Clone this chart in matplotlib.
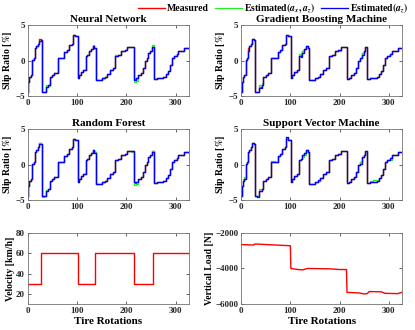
import matplotlib.pyplot as plt
from matplotlib.ticker import FixedLocator

plt.rcParams['font.family'] = 'Liberation Serif'
plt.rcParams['font.weight'] = 'bold'
plt.rcParams['mathtext.fontset'] = 'stix'

# slip ratio steps (start of each step, value in %)
slip_x = [0, 1, 3, 6, 9, 12, 14, 17, 20, 23, 26,
          28, 33, 36, 42, 45, 50, 54, 61, 69, 74, 79, 84, 89, 92, 96,
          101, 104, 108, 113, 118, 121, 124, 128, 132, 135,
          138, 147, 151, 156, 161, 167, 172, 178, 184, 190, 197, 202, 210,
          215, 220, 224, 229, 233, 238, 242, 245, 249, 252,
          256, 262, 268, 275, 280, 285, 289, 293, 297, 303, 306, 313, 318, 327]
slip_meas = [-4.5, -3.0, -2.3, -2.0, 0.1, 0.3, 1.7, 2.0, 2.4, 3.0, 2.9,
             -4.5, -4.4, -3.7, -3.5, -2.3, -2.1, -1.8, 0.3, 0.4, 1.2, 1.5, 2.2, 2.4, 3.6, 3.4,
             -2.4, -2.1, -1.6, -1.3, 0.6, 0.8, 1.3, 1.6, 2.0, 1.8,
             -2.8, -2.7, -2.4, -2.3, -1.9, -1.4, -1.1, 0.7, 0.8, 1.4, 1.5, 1.9, 1.9,
             -2.6, -2.4, -2.0, -1.7, -1.0, 0.0, 0.3, 1.0, 1.4, 1.9,
             -2.6, -2.5, -2.4, -2.3, -1.9, -1.5, -0.6, 0.3, 0.7, 0.9, 1.3, 1.4, 1.7, 1.7]

# where the estimates differ from the measurement (step start -> difference)
nn_xz_dev = {23: -0.2, 36: 0.2, 42: -0.1, 132: 0.15, 215: -0.4, 220: -0.5, 252: 0.25, 178: 0.1}
nn_z_dev = {23: -0.2, 215: -0.1, 252: 0.05, 297: -0.05}
gbm_xz_dev = {36: 0.3, 42: 0.3, 118: 0.3, 121: 0.2, 197: -0.2, 249: -0.2, 14: -0.3}
gbm_z_dev = {14: -0.4, 121: -0.3, 124: -0.2, 245: -0.2, 36: -0.1}
rf_xz_dev = {215: -0.3, 220: -0.3, 210: -0.2, 28: -0.1, 36: 0.1}
rf_z_dev = {23: -0.1, 135: -0.2, 252: -0.2, 215: 0.1}
svm_xz_dev = {3: 0.3, 6: 0.2, 36: 0.2, 61: 0.2, 124: -0.3, 128: -0.2, 262: 0.2, 268: 0.2, 275: 0.1, 303: -0.2, 313: -0.1, 92: 0.1}
svm_z_dev = {92: 0.3, 96: 0.1, 33: -0.2, 242: -0.2, 156: 0.1}

models = ['Neural Network', 'Gradient Boosting Machine', 'Random Forest', 'Support Vector Machine']
devs = [(nn_xz_dev, nn_z_dev), (gbm_xz_dev, gbm_z_dev), (rf_xz_dev, rf_z_dev), (svm_xz_dev, svm_z_dev)]

# velocity and vertical load
vel_x = [0, 27, 101, 137, 215, 255, 327]
vel = [30, 60, 30, 60, 30, 60, 60]
load_x = [0, 25, 28, 100, 101, 115, 125, 135, 180, 200, 214, 215, 240, 250, 256, 260, 285, 292, 318, 327]
load = [-2650, -2680, -2620, -2720, -4000, -4060, -4080, -4000, -4020, -4060, -4060,
        -5350, -5380, -5440, -5420, -5300, -5320, -5400, -5420, -5340]

fig = plt.figure(figsize=(4.15, 3.3), dpi=100)

lefts = [0.067, 0.581]
w = 0.388
bottoms = [0.709, 0.394, 0.079]
h = 0.215

red = '#ff0000'
green = '#22ee22'
blue = '#0000ff'


def style(ax):
    ax.tick_params(direction='in', top=True, right=True, length=2.5, width=0.5,
                   labelsize=6.5, pad=2, colors='0.15')
    for s in ax.spines.values():
        s.set_linewidth(0.6)
        s.set_color('0.45')
    for lab in ax.get_xticklabels() + ax.get_yticklabels():
        lab.set_fontweight('bold')
    ax.set_xlim(0, 327)
    ax.xaxis.set_major_locator(FixedLocator([0, 100, 200, 300]))


for i, name in enumerate(models):
    ax = fig.add_axes([lefts[i % 2], bottoms[i // 2], w, h])
    dxz, dz = devs[i]
    est_xz = [m + dxz.get(x, 0) for x, m in zip(slip_x, slip_meas)]
    est_z = [m + dz.get(x, 0) for x, m in zip(slip_x, slip_meas)]
    ax.plot(slip_x, slip_meas, drawstyle='steps-post', color=red, lw=1.0, label='Measured')
    ax.plot(slip_x, est_xz, drawstyle='steps-post', color=green, lw=0.9,
            label='Estimated$(a_x, a_z)$')
    ax.plot(slip_x, est_z, drawstyle='steps-post', color=blue, lw=0.95,
            label='Estimated$(a_z)$')
    ax.set_ylim(-5, 5)
    ax.set_yticks([-5, 0, 5])
    ax.set_title(name, fontsize=8, fontweight='bold', pad=2)
    ax.set_ylabel('Slip Ratio [$\\%$]', fontsize=7, fontweight='bold', labelpad=1)
    style(ax)
    if i == 0:
        handles, labels = ax.get_legend_handles_labels()

ax = fig.add_axes([lefts[0], bottoms[2], w, h])
ax.plot(vel_x, vel, drawstyle='steps-post', color=red, lw=1.0)
ax.set_ylim(10, 80)
ax.set_yticks([20, 40, 60, 80])
ax.set_ylabel('Velocity [km/h]', fontsize=7, fontweight='bold', labelpad=1)
ax.set_xlabel('Tire Rotations', fontsize=8, fontweight='bold', labelpad=2)
style(ax)

ax = fig.add_axes([lefts[1], bottoms[2], w, h])
ax.plot(load_x, load, color=red, lw=1.0)
ax.set_ylim(-6000, -2000)
ax.set_yticks([-6000, -4000, -2000])
ax.set_ylabel('Vertical Load [N]', fontsize=7, fontweight='bold', labelpad=1)
ax.set_xlabel('Tire Rotations', fontsize=8, fontweight='bold', labelpad=2)
style(ax)

fig.legend(handles, labels, loc='upper right', bbox_to_anchor=(1.005, 1.022), ncol=3,
           frameon=False, handlelength=2.8, handletextpad=0.2,
           columnspacing=0.6, prop={'weight': 'bold', 'size': 7})

plt.savefig('out.png', dpi=100)
